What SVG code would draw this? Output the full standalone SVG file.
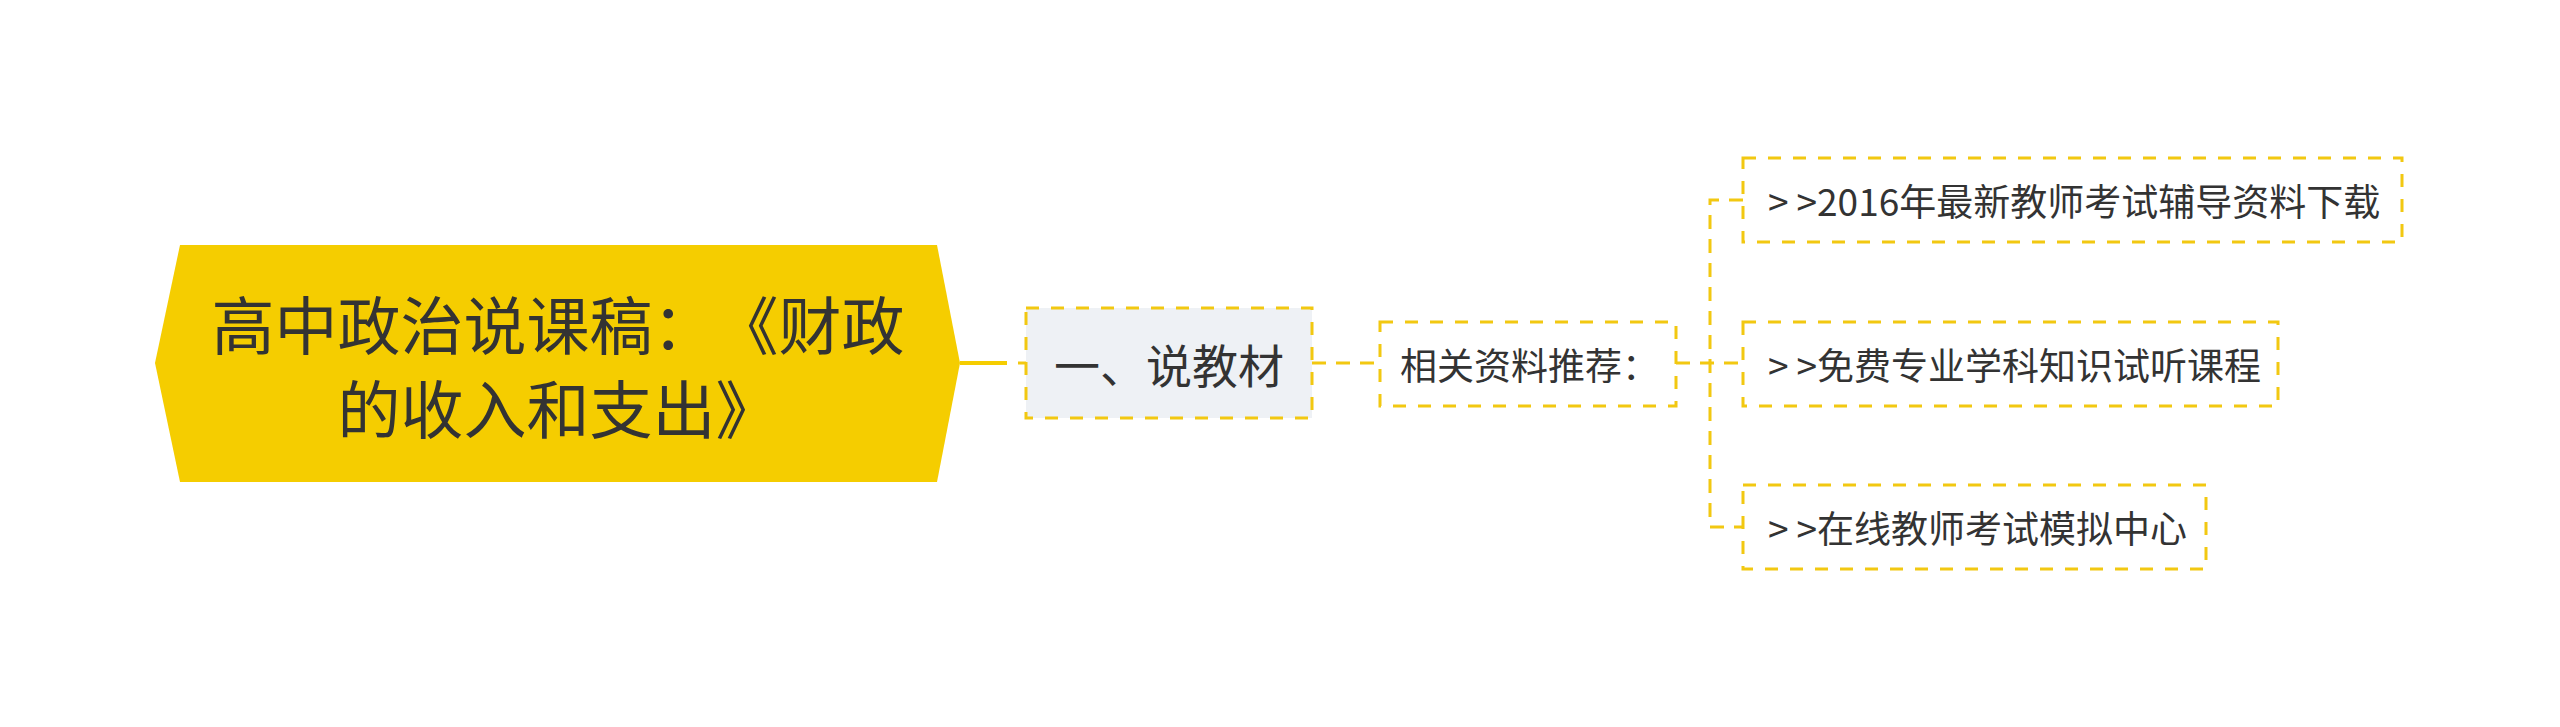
<svg xmlns="http://www.w3.org/2000/svg" width="2560" height="727" viewBox="0 0 2560 727">
<style>
text{font-family:"Noto Sans CJK SC","Noto Sans",sans-serif;fill:#333333;dominant-baseline:central;text-spacing-trim:space-all;font-feature-settings:"chws" 0,"halt" 0}
.box{stroke:#F2C811;stroke-width:3;stroke-dasharray:13 12;fill:#FFFFFF}
.conn{stroke:#F2C811;stroke-width:3;fill:none;stroke-dasharray:14 10}
.leaf{font-size:37px}
.gt{letter-spacing:8px}
</style>
<rect width="2560" height="727" fill="#FFFFFF"/>
<g id="connectors">
<line x1="960" y1="363" x2="1007" y2="363" stroke="#F5CD00" stroke-width="4"/>
<line x1="1018" y1="363" x2="1026" y2="363" stroke="#F2C811" stroke-width="3"/>
<line class="conn" x1="1312" y1="363" x2="1380" y2="363"/>
<line class="conn" x1="1676" y1="363" x2="1743" y2="363"/>
<path class="conn" d="M1743 200 H1710 V527 H1743"/>
</g>
<g id="root">
<polygon points="180,245 937,245 960,363 937,482 180,482 155,363" fill="#F5CD00"/>
<text x="558" y="321" font-size="63" text-anchor="middle">高中政治说课稿：《财政</text>
<text x="558" y="405" font-size="63" text-anchor="middle">的收入和支出》</text>
</g>
<g id="node-jiaocai">
<rect class="box" x="1026" y="308" width="286" height="110" style="fill:#EEF1F5"/>
<text x="1169" y="363" font-size="46" text-anchor="middle">一、说教材</text>
</g>
<g id="node-tuijian">
<rect class="box" x="1380" y="322" width="296" height="84"/>
<text x="1400" y="364" font-size="37">相关资料推荐：</text>
</g>
<g id="leaf-1">
<rect class="box" x="1743" y="158" width="659" height="84"/>
<text class="leaf" x="1768" y="200"><tspan class="gt">&gt;</tspan>&gt;2016年最新教师考试辅导资料下载</text>
</g>
<g id="leaf-2">
<rect class="box" x="1743" y="322" width="535" height="84"/>
<text class="leaf" x="1768" y="364"><tspan class="gt">&gt;</tspan>&gt;免费专业学科知识试听课程</text>
</g>
<g id="leaf-3">
<rect class="box" x="1743" y="485" width="463" height="84"/>
<text class="leaf" x="1768" y="527"><tspan class="gt">&gt;</tspan>&gt;在线教师考试模拟中心</text>
</g>
</svg>
